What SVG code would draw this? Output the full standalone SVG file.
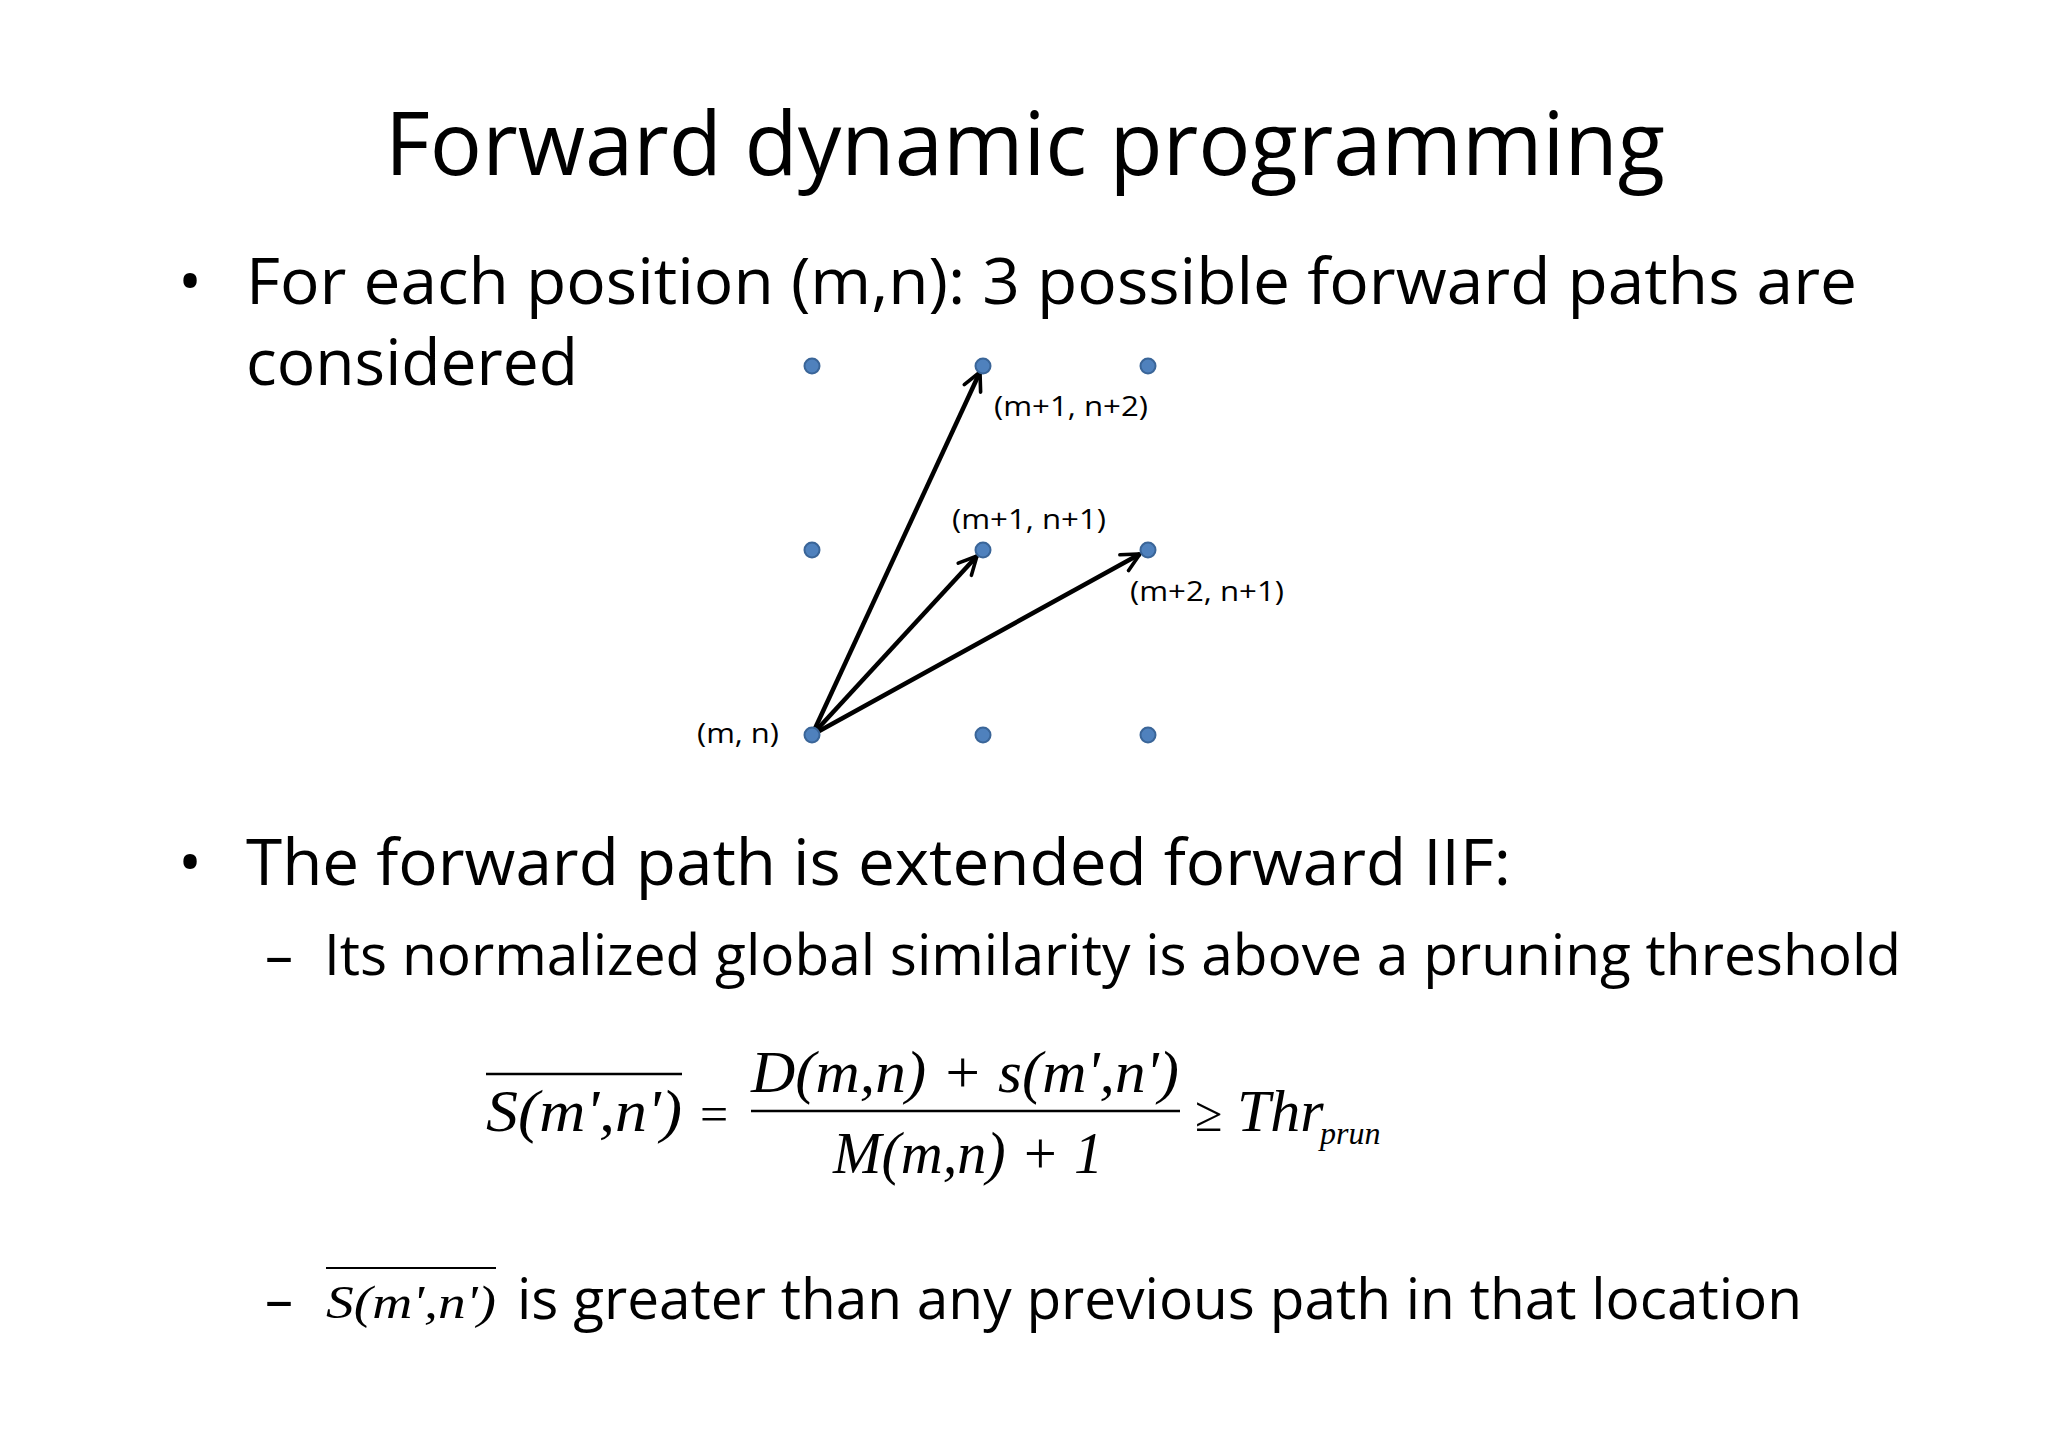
<svg xmlns="http://www.w3.org/2000/svg" width="2048" height="1447" viewBox="0 0 2048 1447">
<style>
.t{font-family:"Open Sans","Liberation Sans",sans-serif;fill:#000}
.m{font-family:"Liberation Serif",serif;font-style:italic;fill:#000}
.r{font-family:"Liberation Serif",serif;fill:#000}
.lbl{font-family:"Open Sans","Liberation Sans",sans-serif;font-size:28px;fill:#000}
.dot{fill:#4f81bd;stroke:#3a6598;stroke-width:2}
.arr{stroke:#000;stroke-width:4.5;fill:none;marker-end:url(#ah)}
</style>
<defs>
<marker id="ah" viewBox="0 0 10 10" refX="9" refY="5" markerWidth="5" markerHeight="5" orient="auto" markerUnits="strokeWidth">
<path d="M1,1 L9,5 L1,9" fill="none" stroke="#000" stroke-width="1.6" stroke-linecap="round"/>
</marker>
</defs>
<rect width="2048" height="1447" fill="#fff"/>
<text class="t" x="385" y="175" font-size="88" textLength="1280" lengthAdjust="spacingAndGlyphs">Forward dynamic programming</text>
<g id="text1">
<text class="t" x="178" y="304" font-size="64">•</text>
<text class="t" x="246" y="304" font-size="64" textLength="1611" lengthAdjust="spacingAndGlyphs">For each position (m,n): 3 possible forward paths are</text>
<text class="t" x="246" y="385" font-size="64" textLength="332" lengthAdjust="spacingAndGlyphs">considered</text>
</g>
<g id="connectors">
<line class="arr" x1="812" y1="735" x2="980" y2="372"/>
<line class="arr" x1="812" y1="735" x2="977" y2="556"/>
<line class="arr" x1="812" y1="735" x2="1140" y2="554"/>
</g>
<g id="nodes">
<g id="n00"><circle class="dot" cx="812" cy="366" r="7.5"/></g>
<g id="n10"><circle class="dot" cx="983" cy="366" r="7.5"/></g>
<g id="n20"><circle class="dot" cx="1148" cy="366" r="7.5"/></g>
<g id="n01"><circle class="dot" cx="812" cy="550" r="7.5"/></g>
<g id="n11"><circle class="dot" cx="983" cy="550" r="7.5"/></g>
<g id="n21"><circle class="dot" cx="1148" cy="550" r="7.5"/></g>
<g id="n02"><circle class="dot" cx="812" cy="735" r="7.5"/></g>
<g id="n12"><circle class="dot" cx="983" cy="735" r="7.5"/></g>
<g id="n22"><circle class="dot" cx="1148" cy="735" r="7.5"/></g>
</g>
<g id="labels">
<text class="lbl" x="994" y="416" textLength="154" lengthAdjust="spacingAndGlyphs">(m+1, n+2)</text>
<text class="lbl" x="952" y="529" textLength="154" lengthAdjust="spacingAndGlyphs">(m+1, n+1)</text>
<text class="lbl" x="1130" y="601" textLength="154" lengthAdjust="spacingAndGlyphs">(m+2, n+1)</text>
<text class="lbl" x="697" y="743" textLength="82" lengthAdjust="spacingAndGlyphs">(m, n)</text>
</g>
<g id="text2">
<text class="t" x="178" y="885" font-size="64">•</text>
<text class="t" x="246" y="885" font-size="64" textLength="1265" lengthAdjust="spacingAndGlyphs">The forward path is extended forward IIF:</text>
<text class="t" x="265" y="975" font-size="56">–</text>
<text class="t" x="324" y="975" font-size="56" textLength="1577" lengthAdjust="spacingAndGlyphs">Its normalized global similarity is above a pruning threshold</text>
</g>
<g id="equation">
<line x1="486" y1="1074" x2="682" y2="1074" stroke="#000" stroke-width="2.5"/>
<text class="m" x="486" y="1131" font-size="60" textLength="196" lengthAdjust="spacingAndGlyphs">S(m',n')</text>
<text class="r" x="700" y="1131" font-size="50">=</text>
<text class="m" x="751" y="1092" font-size="60" textLength="428" lengthAdjust="spacingAndGlyphs">D(m,n) + s(m',n')</text>
<line x1="751" y1="1111" x2="1180" y2="1111" stroke="#000" stroke-width="2.5"/>
<text class="m" x="833" y="1173" font-size="60" textLength="270" lengthAdjust="spacingAndGlyphs">M(m,n) + 1</text>
<text class="r" x="1195" y="1131" font-size="50">≥</text>
<text class="m" x="1237" y="1131" font-size="60">Thr</text>
<text class="m" x="1320" y="1144" font-size="32">prun</text>
</g>
<g id="text3">
<text class="t" x="265" y="1319" font-size="56">–</text>
<line x1="326" y1="1268" x2="496" y2="1268" stroke="#000" stroke-width="2"/>
<text class="m" x="326" y="1318" font-size="46" textLength="170" lengthAdjust="spacingAndGlyphs">S(m',n')</text>
<text class="t" x="517" y="1319" font-size="56" textLength="1285" lengthAdjust="spacingAndGlyphs">is greater than any previous path in that location</text>
</g>
</svg>
